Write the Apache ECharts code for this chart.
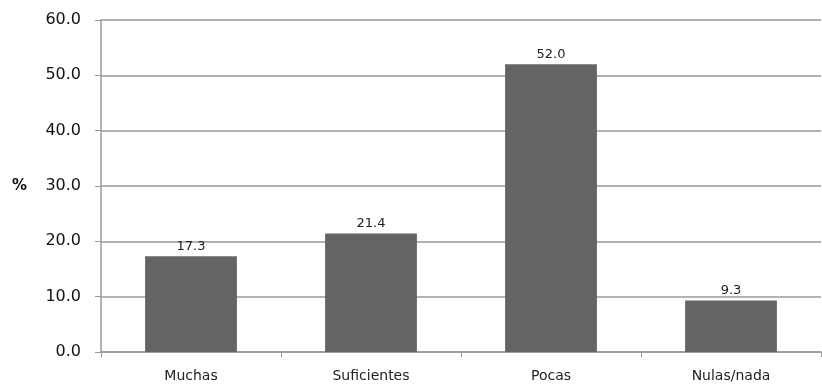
<!DOCTYPE html>
<html><head><meta charset="utf-8">
<script src="https://cdn.jsdelivr.net/npm/echarts@6/dist/echarts.min.js"></script>
<style>html,body{margin:0;padding:0;background:#fff}#c{width:822px;height:385px}</style>
</head><body><div id="c"></div>
<script>
const categories = ['Muchas', 'Suficientes', 'Pocas', 'Nulas/nada'];
const values = [17.3, 21.4, 52.0, 9.3];
const yTicks = { min: 0, max: 60, interval: 10 };

const chart = echarts.init(document.getElementById('c'));
chart.setOption({
  animation: false,
  grid: { left: 101, right: 1, top: 20, bottom: 33, containLabel: false },
  xAxis: {
    type: 'category', data: categories,
    axisLine: { show: true, lineStyle: { color: '#999', width: 1.5 } },
    axisTick: { show: true, length: 5, inside: false, lineStyle: { color: '#999' } },
    axisLabel: { color: '#222', fontFamily: 'DejaVu Sans', fontSize: 14, margin: 17 }
  },
  yAxis: {
    type: 'value', min: yTicks.min, max: yTicks.max, interval: yTicks.interval,
    name: '%', nameLocation: 'middle', nameGap: 74, nameRotate: 0,
    nameTextStyle: { color: '#111', fontFamily: 'DejaVu Sans', fontSize: 15, fontWeight: 'bold' },
    axisLine: { show: true, lineStyle: { color: '#999', width: 1.5 } },
    axisTick: { show: true, length: 6, lineStyle: { color: '#999' } },
    axisLabel: { color: '#111', fontFamily: 'DejaVu Sans', fontSize: 16, margin: 20,
      formatter: v => v.toFixed(1) },
    splitLine: { show: true, lineStyle: { color: '#999', width: 1.5 } }
  },
  series: [{
    type: 'bar', data: values, barWidth: '51%',
    itemStyle: { color: '#646464' },
    label: { show: true, position: 'top', color: '#222', fontFamily: 'DejaVu Sans', fontSize: 13,
      distance: 3, formatter: p => p.value.toFixed(1) }
  }]
});
</script></body></html>
